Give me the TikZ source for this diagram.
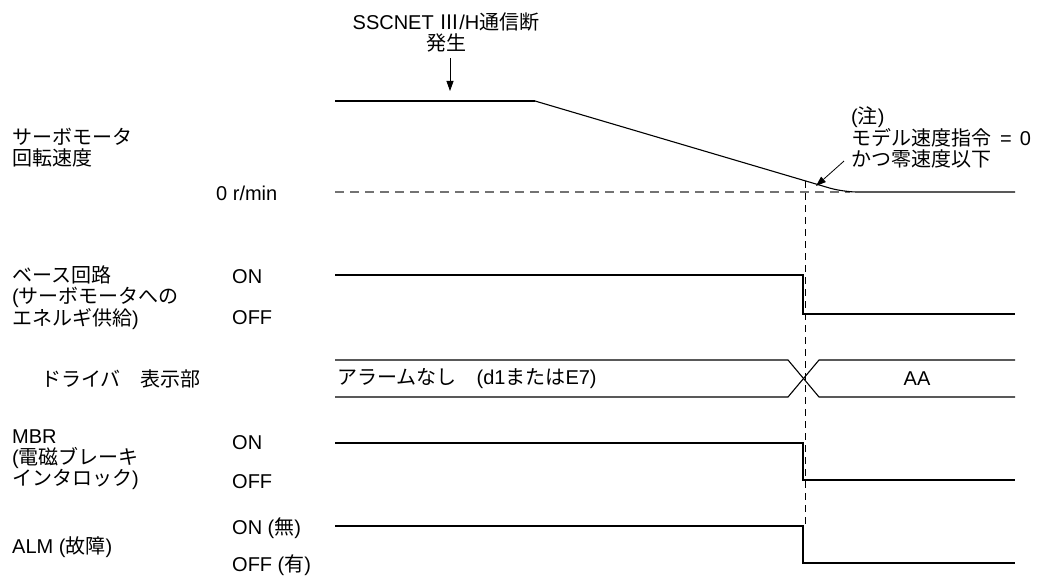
\documentclass[tikz,border=0pt]{standalone}
\usepackage{fontspec}
\setmainfont{Liberation Sans}
\newfontfamily\jpfont{Noto Sans CJK JP}
\newcommand\ja[1]{{\jpfont #1}}
\usetikzlibrary{arrows.meta}

\begin{document}
\begin{tikzpicture}[x=1pt,y=-1pt,font=\fontsize{20}{21}\selectfont,
  >={Triangle[length=10pt,width=7pt]},
  lbl/.style={anchor=west,align=left,inner sep=0pt},
  ttl/.style={align=center,inner sep=0pt},
  sig/.style={line width=1.1pt},
  zero/.style={black!55,line width=1.1pt,dash pattern=on 9pt off 6pt},
  evt/.style={line width=0.9pt,dash pattern=on 7pt off 5pt}]
  \useasboundingbox (0,0) rectangle (1048,580);
  % event and note
  \node[ttl] (ev) at (446,32.5) {SSCNET \ja{Ⅲ}/H\ja{通信断}\\\ja{発生}};
  \coordinate (hit) at (450,101);
  \draw[->,line width=0.8pt] ([yshift=-6pt]ev.south -| hit) -- ([yshift=10pt]hit);
  \node[lbl] (note) at (851,137) {(\ja{注})\\\ja{モデル速度指令}\hspace{9pt}=\hspace{8pt}0\\\ja{かつ零速度以下}};
  \coordinate (knee) at (816,186);
  \draw[->,line width=0.8pt] ([xshift=-7pt,yshift=7pt]note.south west) -- (knee);
  % row labels
  \node[lbl] (spd) at (12,148) {\ja{サーボモータ}\\\ja{回転速度}};
  \node[lbl] (zr) at (216,193) {0 r/min};
  \node[lbl] (base) at (12,298) {\ja{ベース回路}\\(\ja{サーボモータへの}\\\ja{エネルギ供給})};
  \node[lbl] (bon) at (232,277) {ON};
  \node[lbl] (boff) at (232,318) {OFF};
  \node[lbl] (disp) at (41,379) {\ja{ドライバ　表示部}};
  \node[lbl] (mbr) at (12,460) {MBR\\(\ja{電磁ブレーキ}\\\ja{インタロック})};
  \node[lbl] (mon) at (232,443) {ON};
  \node[lbl] (moff) at (232,482) {OFF};
  \node[lbl] (alm) at (12,547) {ALM (\ja{故障})};
  \node[lbl] (aon) at (232,528) {ON (\ja{無})};
  \node[lbl] (aoff) at (232,565) {OFF (\ja{有})};
  % speed
  \draw[zero] (335,192) -- (850,192);
  \draw[sig] (335,101) -- (535,101);
  \draw[sig,rounded corners=14pt] (535,101) -- (843,192) -- (1015,192);
  % base circuit
  \draw[sig] (335,275) -- (803,275) -- (803,314) -- (1015,314);
  % display
  \draw[sig] (335,360) -- (788,360) -- (819,397) -- (1015,397);
  \draw[sig] (335,397) -- (788,397) -- (819,360) -- (1015,360);
  \node[lbl] (none) at (337,379) {\ja{アラームなし　}(d1\ja{または}E7)};
  \node[ttl] (aa) at (917,379) {AA};
  % MBR and ALM
  \draw[sig] (335,443) -- (803,443) -- (803,480) -- (1015,480);
  \draw[sig] (335,526) -- (803,526) -- (803,563) -- (1015,563);
  \draw[evt] (805,181) -- (805,527);
\end{tikzpicture}
\end{document}
